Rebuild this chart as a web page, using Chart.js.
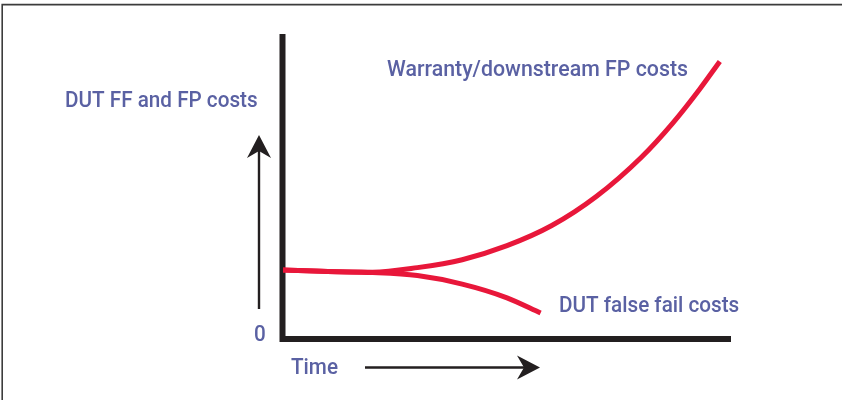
<!DOCTYPE html>
<html>
<head>
<meta charset="utf-8">
<script src="https://cdn.jsdelivr.net/npm/chart.js@4/dist/chart.umd.min.js"></script>
<style>
  html, body { margin: 0; padding: 0; background: #ffffff; }
  canvas { display: block; }
</style>
</head>
<body>
<canvas id="c" width="842" height="400"></canvas>
<script>
// ---- data ----
const time = [0, 10, 20, 30, 40, 50, 57.5, 60, 70, 80, 87, 93, 97.5];
const warrantyCosts = [22.6, 22.1, 21.9, 23.4, 26.0, 30.6, null, 37.2, 46.8, 59.6, 70.8, 81.9, 91.0];
const falseFailCosts = [22.6, 22.1, 21.8, 20.8, 18.0, 13.5, 8.5, null, null, null, null, null, null];
const seriesLabels = ["Warranty/downstream FP costs", "DUT false fail costs"];
const yAxisTitle = "DUT FF and FP costs";
const xAxisTitle = "Time";
const zeroLabel = "0";

const RED = "#e8173a";
const TEXT = "#5a61a3";
const INK = "#231f20";

function pts(xs, ys) {
  const out = [];
  xs.forEach((x, i) => { if (ys[i] !== null) out.push({ x: x, y: ys[i] }); });
  return out;
}

function condensedText(ctx, str, x, baseline, sx) {
  ctx.save();
  ctx.translate(x, baseline);
  ctx.scale(sx, 1);
  ctx.fillText(str, 0, 0);
  ctx.restore();
}

function arrowHead(ctx, tipX, tipY, dirX, dirY, len, half, notch) {
  const px = -dirY, py = dirX;
  const bx = tipX - dirX * len, by = tipY - dirY * len;
  const nx = tipX - dirX * (len - notch), ny = tipY - dirY * (len - notch);
  ctx.beginPath();
  ctx.moveTo(tipX, tipY);
  ctx.lineTo(bx + px * half, by + py * half);
  ctx.lineTo(nx, ny);
  ctx.lineTo(bx - px * half, by - py * half);
  ctx.closePath();
  ctx.fill();
}

const decor = {
  id: "decor",
  beforeDatasetsDraw(chart) {
    const ctx = chart.ctx;
    const xs = chart.scales.x, ys = chart.scales.y;
    const x0 = xs.getPixelForValue(0), x1 = xs.getPixelForValue(100);
    const y0 = ys.getPixelForValue(0), y1 = ys.getPixelForValue(100);
    ctx.save();
    ctx.strokeStyle = "#3c3c3c";
    ctx.lineWidth = 1.6;
    ctx.beginPath();
    ctx.moveTo(842, 4.6);
    ctx.lineTo(2.2, 4.6);
    ctx.lineTo(2.2, 400);
    ctx.stroke();
    ctx.strokeStyle = INK;
    ctx.lineWidth = 6;
    ctx.lineCap = "butt";
    ctx.beginPath();
    ctx.moveTo(x0 - 0.5, y1);
    ctx.lineTo(x0 - 0.5, y0 + 3);
    ctx.moveTo(x0 - 3.5, y0);
    ctx.lineTo(x1, y0);
    ctx.stroke();
    ctx.restore();
  },
  afterDatasetsDraw(chart) {
    const ctx = chart.ctx;
    ctx.save();
    ctx.strokeStyle = INK;
    ctx.fillStyle = INK;
    ctx.lineWidth = 2.4;
    ctx.beginPath();
    ctx.moveTo(259, 309);
    ctx.lineTo(259, 148);
    ctx.moveTo(365, 367.5);
    ctx.lineTo(527, 367.5);
    ctx.stroke();
    arrowHead(ctx, 259, 135, 0, -1, 23, 12, 7);
    arrowHead(ctx, 540, 367.5, 1, 0, 23, 12, 7);
    ctx.fillStyle = TEXT;
    ctx.font = "500 22px Roboto, 'Liberation Sans', sans-serif";
    ctx.textBaseline = "alphabetic";
    ctx.textAlign = "left";
    const sx = 0.94;
    condensedText(ctx, yAxisTitle, 65, 107, sx);
    condensedText(ctx, seriesLabels[0], 387, 76, 0.97);
    condensedText(ctx, seriesLabels[1], 559, 312, sx);
    condensedText(ctx, zeroLabel, 254, 341, sx);
    condensedText(ctx, xAxisTitle, 291, 374, sx);
    ctx.restore();
  }
};

new Chart(document.getElementById("c"), {
  type: "line",
  data: {
    datasets: [
      { label: seriesLabels[0], data: pts(time, warrantyCosts), borderColor: RED, borderWidth: 5,
        pointRadius: 0, cubicInterpolationMode: "monotone", fill: false },
      { label: seriesLabels[1], data: pts(time, falseFailCosts), borderColor: RED, borderWidth: 5,
        pointRadius: 0, cubicInterpolationMode: "monotone", fill: false }
    ]
  },
  options: {
    responsive: false,
    devicePixelRatio: 1,
    animation: false,
    layout: { padding: { left: 283, right: 111, top: 34, bottom: 61 } },
    plugins: { legend: { display: false }, tooltip: { enabled: false }, title: { display: false } },
    scales: {
      x: { type: "linear", min: 0, max: 100, display: false },
      y: { type: "linear", min: 0, max: 100, display: false }
    }
  },
  plugins: [decor]
});
</script>
</body>
</html>
